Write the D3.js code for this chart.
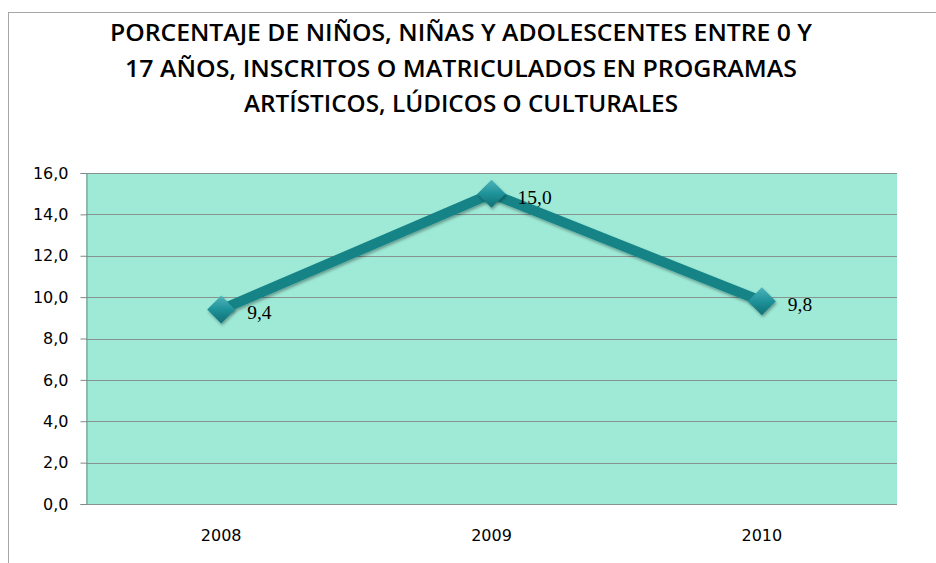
<!DOCTYPE html>
<meta charset="utf-8">
<style>
body { margin: 0; background: #fff; }
svg { display: block; }
</style>
<body>
<div id="chart"></div>
<script src="https://d3js.org/d3.v7.min.js"></script>
<script>
// values
var years = ["2008", "2009", "2010"];
var values = [9.4, 15.0, 9.8];
var yTicks = [0, 2, 4, 6, 8, 10, 12, 14, 16];
var titleLines = [
  "PORCENTAJE DE NIÑOS, NIÑAS Y ADOLESCENTES ENTRE 0 Y",
  "17 AÑOS, INSCRITOS O MATRICULADOS EN PROGRAMAS",
  "ARTÍSTICOS, LÚDICOS O CULTURALES"
];
var titleWidths = [702, 672, 434];

var width = 936, height = 563;
var plot = {left: 86, top: 173, right: 897, bottom: 504};

var svg = d3.select("#chart").append("svg")
    .attr("width", width)
    .attr("height", height);

var defs = svg.append("defs");
var grad = defs.append("linearGradient")
    .attr("id", "mk")
    .attr("x1", 0).attr("y1", 0).attr("x2", 0).attr("y2", 1);
grad.append("stop").attr("offset", "0%").attr("stop-color", "#4fb4ba");
grad.append("stop").attr("offset", "50%").attr("stop-color", "#1f9299");
grad.append("stop").attr("offset", "100%").attr("stop-color", "#0f6f74");

var shadow = defs.append("filter").attr("id", "shd")
    .attr("x", "-50%").attr("y", "-50%").attr("width", "200%").attr("height", "200%");
shadow.append("feDropShadow")
    .attr("dx", 1).attr("dy", 2).attr("stdDeviation", 1.5)
    .attr("flood-color", "#000").attr("flood-opacity", 0.35);

// outer frame
svg.append("rect")
    .attr("x", 8.5).attr("y", 12.5)
    .attr("width", width + 10).attr("height", height)
    .attr("fill", "none")
    .attr("stroke", "#a6a6a6");

// title
svg.append("g").selectAll("text")
  .data(titleLines)
  .enter().append("text")
    .attr("x", 461)
    .attr("y", function(d, i) { return 41 + i * 35.5; })
    .attr("text-anchor", "middle")
    .attr("textLength", function(d, i) { return titleWidths[i]; })
    .attr("lengthAdjust", "spacingAndGlyphs")
    .attr("font-family", "'Open Sans', sans-serif")
    .attr("font-weight", 600)
    .attr("font-size", 23)
    .attr("fill", "#000")
    .text(function(d) { return d; });

var x = d3.scaleBand()
    .domain(years)
    .range([plot.left, plot.right]);

var y = d3.scaleLinear()
    .domain([0, 16])
    .range([plot.bottom, plot.top]);

// plot area
svg.append("rect")
    .attr("x", plot.left).attr("y", plot.top)
    .attr("width", plot.right - plot.left)
    .attr("height", plot.bottom - plot.top)
    .attr("fill", "#9eead7");

// gridlines
svg.append("g").selectAll("line")
  .data(yTicks)
  .enter().append("line")
    .attr("x1", plot.left).attr("x2", plot.right)
    .attr("y1", function(d) { return Math.round(y(d)) + 0.5; })
    .attr("y2", function(d) { return Math.round(y(d)) + 0.5; })
    .attr("stroke", "#86948f")
    .attr("stroke-width", 1.2);

// y axis
var yAxis = svg.append("g")
    .attr("transform", "translate(" + (plot.left + 0.5) + ",0)")
    .call(d3.axisLeft(y)
      .tickValues(yTicks)
      .tickSize(6)
      .tickPadding(12)
      .tickFormat(function(d) { return d3.format(".1f")(d).replace(".", ","); }));
yAxis.select(".domain").attr("stroke", "#7f8a86");
yAxis.selectAll(".tick line").attr("stroke", "#7f8a86");
yAxis.selectAll("text")
    .attr("font-family", "'DejaVu Sans', sans-serif")
    .attr("font-size", 16)
    .attr("fill", "#000");

// x axis labels
var xAxis = svg.append("g")
    .attr("transform", "translate(0," + plot.bottom + ")")
    .call(d3.axisBottom(x).tickSize(0).tickPadding(26));
xAxis.select(".domain").remove();
xAxis.selectAll("text")
    .attr("font-family", "'DejaVu Sans', sans-serif")
    .attr("font-size", 16)
    .attr("fill", "#000");

var data = years.map(function(d, i) { return {year: d, value: values[i]}; });

var line = d3.line()
    .x(function(d) { return x(d.year) + x.bandwidth() / 2; })
    .y(function(d) { return y(d.value); });

svg.append("path")
    .datum(data)
    .attr("d", line)
    .attr("fill", "none")
    .attr("stroke", "#138487")
    .attr("stroke-width", 10)
    .attr("stroke-linejoin", "round")
    .attr("filter", "url(#shd)");

// diamond markers
svg.append("g").selectAll("path")
  .data(data)
  .enter().append("path")
    .attr("transform", function(d) {
      return "translate(" + (x(d.year) + x.bandwidth() / 2) + "," + y(d.value) + ")";
    })
    .attr("d", "M0,-14L14,0L0,14L-14,0Z")
    .attr("fill", "url(#mk)")
    .attr("filter", "url(#shd)");

// data labels
svg.append("g").selectAll("text")
  .data(data)
  .enter().append("text")
    .attr("x", function(d) { return x(d.year) + x.bandwidth() / 2 + 26; })
    .attr("y", function(d) { return y(d.value) + 3; })
    .attr("dy", "0.35em")
    .attr("font-family", "'Liberation Serif', serif")
    .attr("font-size", 19.5)
    .attr("fill", "#000")
    .text(function(d) { return d3.format(".1f")(d.value).replace(".", ","); });
</script>
</body>
